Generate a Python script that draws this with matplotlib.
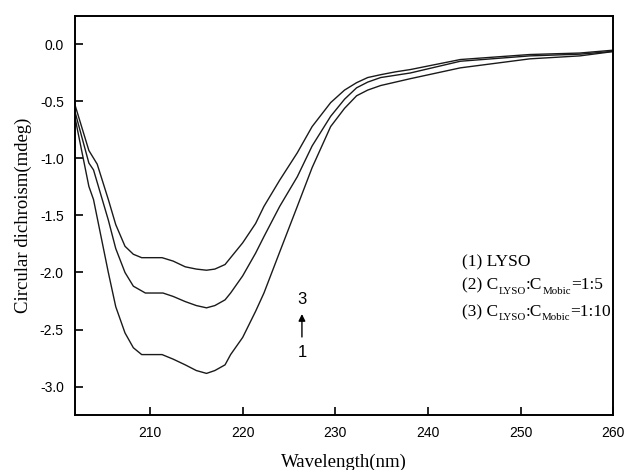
import numpy as np
import matplotlib
matplotlib.use('Agg')
import matplotlib.pyplot as plt
from matplotlib.transforms import offset_copy

# wavelength (nm) and CD (mdeg)
wl1 = [201.9, 203.4, 203.9, 205.5, 206.3, 207.3, 208.2, 209.1, 211.3, 212.5, 213.8, 215.0, 216.1, 217.0,
       218.1, 218.7, 220.0, 221.4, 222.3, 224.0, 225.9, 227.5, 229.5, 231.0, 232.3, 233.5, 234.9, 236.5,
       238.1, 243.5, 251.0, 256.4, 260.0]
cd1 = [-0.64, -1.245, -1.36, -2.00, -2.30, -2.53, -2.66, -2.72, -2.72, -2.76, -2.81, -2.86, -2.885, -2.86,
       -2.81, -2.72, -2.57, -2.34, -2.18, -1.82, -1.42, -1.08, -0.72, -0.56, -0.45, -0.40, -0.36, -0.33,
       -0.30, -0.205, -0.126, -0.10, -0.062]

wl2 = [201.9, 203.4, 203.9, 205.5, 206.3, 207.3, 208.2, 209.5, 211.4, 212.5, 213.8, 215.0, 216.1, 217.0,
       218.1, 218.7, 220.0, 221.4, 222.3, 224.0, 225.9, 227.5, 229.5, 231.0, 232.3, 233.5, 234.9, 236.5,
       238.1, 243.5, 251.0, 256.4, 260.0]
cd2 = [-0.59, -1.04, -1.10, -1.54, -1.79, -2.00, -2.12, -2.18, -2.18, -2.21, -2.255, -2.29, -2.31, -2.29,
       -2.24, -2.18, -2.03, -1.83, -1.685, -1.42, -1.16, -0.89, -0.63, -0.48, -0.38, -0.33, -0.29, -0.27,
       -0.25, -0.147, -0.10, -0.085, -0.06]

wl3 = [201.9, 203.4, 204.3, 205.5, 206.3, 207.3, 208.2, 209.1, 211.3, 212.5, 213.8, 215.0, 216.1, 217.0,
       218.1, 218.7, 220.0, 221.4, 222.3, 224.0, 225.9, 227.5, 229.5, 231.0, 232.3, 233.5, 234.9, 236.5,
       238.1, 243.5, 251.0, 256.4, 260.0]
cd3 = [-0.53, -0.93, -1.05, -1.36, -1.58, -1.77, -1.84, -1.87, -1.87, -1.90, -1.95, -1.97, -1.98, -1.97,
       -1.93, -1.87, -1.74, -1.57, -1.42, -1.19, -0.95, -0.72, -0.51, -0.40, -0.335, -0.29, -0.265, -0.24,
       -0.22, -0.132, -0.088, -0.075, -0.05]

# legend text pieces: (text, is_subscript)
legend_lines = [
    [('(1) LYSO', False)],
    [('(2) C', False), ('LYSO', True), (':C', False), ('Mobic', True), ('=1:5', False)],
    [('(3) C', False), ('LYSO', True), (':C', False), ('Mobic', True), ('=1:10', False)],
]
legend_y = [-1.907, -2.11, -2.346]

fig = plt.figure(figsize=(6.28, 4.70), dpi=100)
ax = fig.add_axes([0.1194, 0.117, 0.857, 0.849])

for w, c in [(wl1, cd1), (wl2, cd2), (wl3, cd3)]:
    ax.plot(w, c, color='#1a1a1a', lw=1.0)

ax.set_xlim(201.9, 260)
ax.set_ylim(-3.25, 0.25)
ax.set_xticks([210, 220, 230, 240, 250, 260])
ax.set_yticks([0.0, -0.5, -1.0, -1.5, -2.0, -2.5, -3.0])
ax.set_yticklabels(['0.0', '-0.5', '-1.0', '-1.5', '-2.0', '-2.5', '-3.0'])
ax.tick_params(direction='in', length=6, width=1.2, labelsize=10, pad=8)
for lab in ax.get_xticklabels() + ax.get_yticklabels():
    lab.set_family('Liberation Sans')
for s in ax.spines.values():
    s.set_linewidth(1.4)

ax.set_xlabel('Wavelength(nm)', family='Liberation Serif', fontsize=13.5, labelpad=10)
ax.set_ylabel('Circular dichroism(mdeg)', family='Liberation Serif', fontsize=13.5, labelpad=6)

# arrow 1 -> 3
ax.annotate('', xy=(226.4, -2.34), xytext=(226.4, -2.59),
            arrowprops=dict(arrowstyle='-|>', color='black', lw=1.0, mutation_scale=10))
ax.text(226.4, -2.235, '3', ha='center', va='center', family='Liberation Sans', fontsize=12)
ax.text(226.4, -2.70, '1', ha='center', va='center', family='Liberation Sans', fontsize=12)

renderer = fig.canvas.get_renderer()
for pieces, y in zip(legend_lines, legend_y):
    dx = 0.0
    for txt, sub in pieces:
        tr = offset_copy(ax.transData, fig=fig, x=dx, y=(-8.5 if sub else -4.0), units='dots')
        t = ax.text(243.7, y, txt, ha='left', va='baseline', transform=tr,
                    family='Liberation Serif', fontsize=(7.8 if sub else 12.5))
        dx += t.get_window_extent(renderer).width

fig.savefig('out.png', dpi=100)
